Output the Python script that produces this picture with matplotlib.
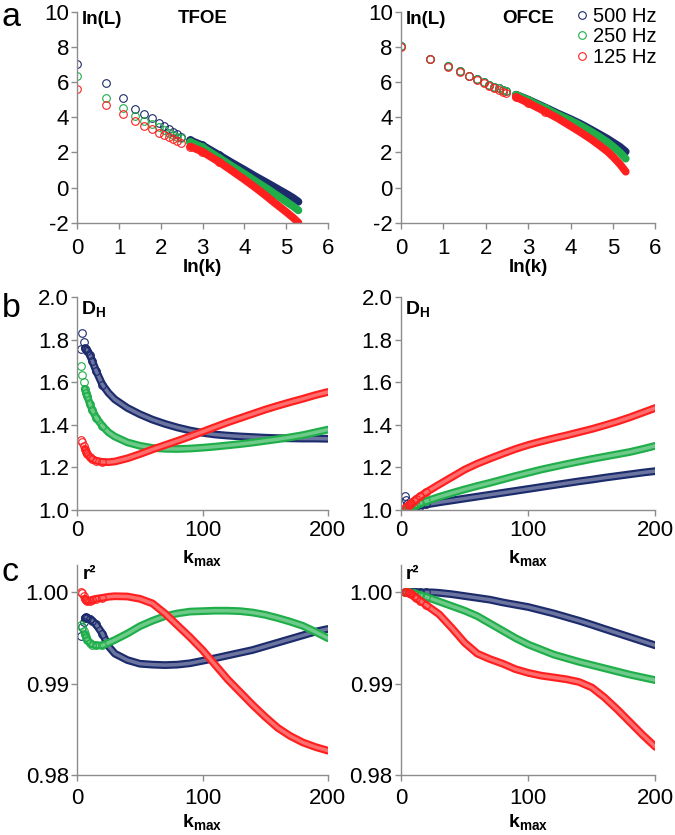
import matplotlib
matplotlib.use("Agg")
import matplotlib.pyplot as plt
from matplotlib.colors import to_rgb
from matplotlib.lines import Line2D
from matplotlib.ticker import FormatStrFormatter
import numpy as np

plt.rcParams["font.family"] = ["Liberation Sans", "DejaVu Sans"]
plt.rcParams["mathtext.fontset"] = "custom"
plt.rcParams["mathtext.rm"] = "Liberation Sans"
plt.rcParams["mathtext.bf"] = "Liberation Sans:bold"
plt.rcParams["mathtext.it"] = "Liberation Sans:italic"

LABELS = ["500 Hz", "250 Hz", "125 Hz"]
COLORS = ["#1c2b6b", "#1fae4a", "#ff1f1f"]

# --- row a: ln(L) against ln(k) ---
K = [1, 2, 3, 4, 5, 6, 7, 8, 9, 10, 11, 12, 15, 20, 30, 40, 55, 70, 90, 110, 130, 150, 175, 200]
TFOE_500 = [7.04, 5.92, 5.07, 4.48, 4.20, 3.96, 3.68, 3.50, 3.33, 3.17, 3.03, 2.90, 2.68, 2.40,
            1.84, 1.43, 1.00, 0.66, 0.33, 0.06, -0.17, -0.36, -0.58, -0.81]
TFOE_250 = [6.33, 5.07, 4.50, 4.07, 3.80, 3.60, 3.42, 3.26, 3.12, 3.00, 2.89, 2.80, 2.58, 2.29,
            1.68, 1.24, 0.77, 0.39, 0.01, -0.31, -0.58, -0.81, -1.06, -1.30]
TFOE_125 = [5.58, 4.67, 4.16, 3.78, 3.50, 3.31, 3.12, 2.99, 2.87, 2.74, 2.64, 2.55, 2.33, 2.04,
            1.45, 0.98, 0.45, 0.03, -0.43, -0.82, -1.13, -1.40, -1.70, -2.00]
OFCE_500 = [8.05, 7.33, 6.89, 6.61, 6.36, 6.17, 5.98, 5.85, 5.73, 5.64, 5.55, 5.47, 5.28, 5.00,
            4.55, 4.22, 3.88, 3.60, 3.27, 3.00, 2.77, 2.55, 2.31, 2.04]
OFCE_250 = [8.05, 7.33, 6.89, 6.61, 6.36, 6.17, 5.98, 5.85, 5.73, 5.64, 5.55, 5.47, 5.27, 4.97,
            4.50, 4.15, 3.80, 3.50, 3.15, 2.85, 2.58, 2.31, 1.98, 1.64]
OFCE_125 = [8.00, 7.30, 6.87, 6.58, 6.32, 6.12, 5.93, 5.79, 5.66, 5.56, 5.46, 5.37, 5.15, 4.82,
            4.32, 3.95, 3.48, 3.12, 2.72, 2.36, 2.05, 1.72, 1.32, 0.90]

# --- rows b and c: D_H and r^2 against k_max ---
KMAX = [3, 4, 5, 6, 7, 8, 10, 12, 15, 20, 25, 30, 40, 50, 60, 70, 80, 90, 100,
        110, 120, 130, 140, 150, 160, 170, 180, 190, 200]
DH_TFOE_500 = [1.755, 1.83, 1.79, 1.76, 1.755, 1.75, 1.73, 1.70, 1.655, 1.59, 1.55, 1.52, 1.48,
               1.45, 1.425, 1.405, 1.388, 1.374, 1.363, 1.355, 1.35, 1.346, 1.343, 1.34,
               1.338, 1.337, 1.336, 1.336, 1.335]
DH_TFOE_250 = [1.675, 1.635, 1.60, 1.57, 1.55, 1.535, 1.50, 1.47, 1.435, 1.395, 1.365, 1.345,
               1.318, 1.302, 1.292, 1.288, 1.287, 1.289, 1.293, 1.298, 1.304, 1.31, 1.317,
               1.325, 1.333, 1.342, 1.352, 1.365, 1.378]
DH_TFOE_125 = [1.33, 1.32, 1.30, 1.285, 1.275, 1.265, 1.25, 1.24, 1.232, 1.226, 1.225, 1.228,
               1.243, 1.263, 1.285, 1.305, 1.325, 1.346, 1.368, 1.39, 1.412, 1.432, 1.452,
               1.472, 1.49, 1.507, 1.523, 1.54, 1.555]
DH_OFCE_500 = [1.065, 1.045, 1.03, 1.022, 1.018, 1.016, 1.016, 1.018, 1.021, 1.026, 1.031, 1.036,
               1.045, 1.054, 1.063, 1.072, 1.081, 1.09, 1.099, 1.108, 1.117, 1.126, 1.135,
               1.143, 1.152, 1.16, 1.168, 1.176, 1.183]
DH_OFCE_250 = [1.0, 1.002, 1.005, 1.008, 1.011, 1.014, 1.019, 1.024, 1.031, 1.042, 1.052, 1.062,
               1.08, 1.097, 1.113, 1.128, 1.144, 1.16, 1.175, 1.19, 1.203, 1.216, 1.228, 1.24,
               1.251, 1.262, 1.273, 1.287, 1.302]
DH_OFCE_125 = [1.008, 1.012, 1.017, 1.022, 1.027, 1.032, 1.042, 1.051, 1.064, 1.084, 1.102, 1.12,
               1.155, 1.19, 1.218, 1.242, 1.265, 1.287, 1.306, 1.322, 1.337, 1.351, 1.366,
               1.381, 1.398, 1.416, 1.436, 1.458, 1.48]
R2_TFOE_500 = [0.9952, 0.9962, 0.9968, 0.9972, 0.9973, 0.9972, 0.9971, 0.9969, 0.9965, 0.9955,
               0.9941, 0.9933, 0.9926, 0.9922, 0.9921, 0.99205, 0.9921, 0.99225, 0.99252,
               0.9928, 0.9931, 0.9934, 0.9937, 0.9941, 0.9945, 0.9949, 0.9953, 0.9957, 0.9960]
R2_TFOE_250 = [0.9964, 0.9962, 0.9958, 0.9954, 0.9951, 0.9948, 0.9945, 0.9943, 0.9942, 0.9942,
               0.9945, 0.9948, 0.9955, 0.9963, 0.9969, 0.9974, 0.9977, 0.9979, 0.99795, 0.998,
               0.998, 0.99795, 0.9978, 0.99755, 0.9972, 0.9968, 0.99635, 0.9957, 0.9950]
R2_TFOE_125 = [1.0, 0.9999, 0.9996, 0.9993, 0.9992, 0.9991, 0.9991, 0.9992, 0.9993, 0.9994,
               0.99952, 0.99958, 0.99955, 0.9993, 0.9988, 0.9977, 0.9964, 0.9951, 0.9937,
               0.9921, 0.9905, 0.9891, 0.9877, 0.9864, 0.9852, 0.9843, 0.9836, 0.9831, 0.9827]
R2_OFCE_500 = [1.0, 1.0, 1.0, 1.0, 1.0, 1.0, 1.0, 1.0, 1.0, 1.0, 1.0, 0.99995, 0.9998, 0.9996,
               0.9994, 0.9992, 0.9989, 0.99865, 0.9984, 0.99805, 0.9977, 0.9973, 0.9969,
               0.99646, 0.996, 0.99555, 0.9951, 0.99465, 0.9942]
R2_OFCE_250 = [1.0, 1.0, 1.0, 1.0, 0.99998, 0.99995, 0.9999, 0.99985, 0.9997, 0.9995, 0.99925,
               0.999, 0.9985, 0.998, 0.9974, 0.9966, 0.9958, 0.995, 0.9943, 0.99375, 0.9932,
               0.9928, 0.9924, 0.99205, 0.9917, 0.99135, 0.991, 0.9907, 0.9904]
R2_OFCE_125 = [1.0, 1.0, 1.0, 0.99995, 0.9999, 0.9998, 0.9996, 0.9994, 0.9991, 0.9986, 0.9981,
               0.9976, 0.9961, 0.9945, 0.9933, 0.9927, 0.9922, 0.9916, 0.9912, 0.9909, 0.9907,
               0.9905, 0.9902, 0.9896, 0.9885, 0.9872, 0.9858, 0.9844, 0.9831]

AXIS_GREY = "#8c8c8c"
MS = 5.5      # circle size, points
BAND = 5.6    # width of the packed-circle band, points


def lighten(col, amount):
    r, g, b = to_rgb(col)
    return (r + (1 - r) * amount, g + (1 - g) * amount, b + (1 - b) * amount)


def draw_series(ax, x, ys, band_from, rings_upto, inner):
    x = np.asarray(x, dtype=float)
    for y, col in zip(ys, COLORS):
        y = np.asarray(y, dtype=float)
        band = x >= band_from
        # hundreds of overlapping open circles in the original read as a thick
        # band; open circles only where they stand apart
        ax.plot(x[band], y[band], color=col, lw=BAND,
                solid_capstyle="round", solid_joinstyle="round")
        if inner:
            ax.plot(x[band], y[band], color=lighten(col, 0.35), lw=BAND * 0.45,
                    solid_capstyle="round", solid_joinstyle="round")
        rings = x <= rings_upto
        ax.plot(x[rings], y[rings], ls="none", marker="o", ms=MS, mfc="none",
                mec=col, mew=0.8)


def style_axes(ax, xlim, xticks, ylim, yticks, yfmt, xpad):
    for side in ("top", "right"):
        ax.spines[side].set_visible(False)
    for side in ("left", "bottom"):
        ax.spines[side].set_color(AXIS_GREY)
        ax.spines[side].set_linewidth(1.0)
    ax.set_xlim(*xlim)
    ax.set_ylim(*ylim)
    ax.set_xticks(xticks)
    ax.set_yticks(yticks)
    ax.yaxis.set_major_formatter(FormatStrFormatter(yfmt))
    ax.tick_params(direction="out", length=4.5, width=1.0, color=AXIS_GREY,
                   labelsize=16, labelcolor="black")
    ax.tick_params(axis="x", pad=xpad)
    ax.tick_params(axis="y", pad=1.5)
    ax.set_facecolor("none")


fig = plt.figure(figsize=(6.75, 8.35), dpi=100)

COL_X = [(0.1145, 0.371), (0.5941, 0.377)]
ROW_Y = [(0.7333, 0.2527), (0.3892, 0.2547), (0.0715, 0.2519)]

axes = [[fig.add_axes([cx, ry, cw, rh]) for (cx, cw) in COL_X] for (ry, rh) in ROW_Y]

lnk = np.log(K)

# row a
for ax, ys, name in [(axes[0][0], [TFOE_500, TFOE_250, TFOE_125], "TFOE"),
                     (axes[0][1], [OFCE_500, OFCE_250, OFCE_125], "OFCE")]:
    draw_series(ax, lnk, ys, band_from=np.log(15), rings_upto=np.log(30), inner=False)
    style_axes(ax, (0, 6), range(0, 7), (-2, 10), range(-2, 11, 2), "%d", 6.5)
    ax.set_xlabel("ln(k)", fontsize=13.5, fontweight="bold", va="center")
    ax.xaxis.set_label_coords(0.5, -0.212)
    ax.text(0.017, 0.964, "ln(L)", transform=ax.transAxes, fontsize=13.5,
            fontweight="bold", ha="left", va="center")
    ax.text(0.5, 0.966, name, transform=ax.transAxes, fontsize=13.5,
            fontweight="bold", ha="center", va="center")

# row b
for ax, ys in [(axes[1][0], [DH_TFOE_500, DH_TFOE_250, DH_TFOE_125]),
               (axes[1][1], [DH_OFCE_500, DH_OFCE_250, DH_OFCE_125])]:
    draw_series(ax, KMAX, ys, band_from=6, rings_upto=20, inner=True)
    style_axes(ax, (0, 200), [0, 100, 200], (1.0, 2.0), np.arange(1.0, 2.01, 0.2), "%.1f", 2.5)
    ax.set_xlabel(r"$\mathbf{k_{max}}$", fontsize=14, va="center")
    ax.xaxis.set_label_coords(0.5, -0.226)
    ax.text(0.014, 0.945, r"$\mathbf{D_H}$", transform=ax.transAxes, fontsize=14,
            ha="left", va="center")

# row c
for ax, ys in [(axes[2][0], [R2_TFOE_500, R2_TFOE_250, R2_TFOE_125]),
               (axes[2][1], [R2_OFCE_500, R2_OFCE_250, R2_OFCE_125])]:
    draw_series(ax, KMAX, ys, band_from=6, rings_upto=20, inner=True)
    style_axes(ax, (0, 200), [0, 100, 200], (0.98, 1.003), [0.98, 0.99, 1.00], "%.2f", 5.0)
    ax.set_xlabel(r"$\mathbf{k_{max}}$", fontsize=14, va="center")
    ax.xaxis.set_label_coords(0.5, -0.222)
    ax.text(0.02, 0.957, "r²", transform=ax.transAxes, fontsize=13.5,
            fontweight="bold", ha="left", va="center")

# legend in the OFCE panel of row a
handles = [Line2D([], [], ls="none", marker="o", ms=MS, mfc="none", mec=c, mew=0.8)
           for c in COLORS]
axes[0][1].legend(handles, LABELS, loc="upper left", bbox_to_anchor=(0.687, 1.022),
                  frameon=False, fontsize=14.5, handlelength=0.6, handletextpad=0.25,
                  labelspacing=0.07, borderpad=0, borderaxespad=0)

# panel letters
for letter, ybase in [("a", 0.969), ("b", 0.620), ("c", 0.3046)]:
    fig.text(0.002, ybase, letter, fontsize=24.5, ha="left", va="baseline")

fig.savefig("out.png", dpi=100, facecolor="white")
